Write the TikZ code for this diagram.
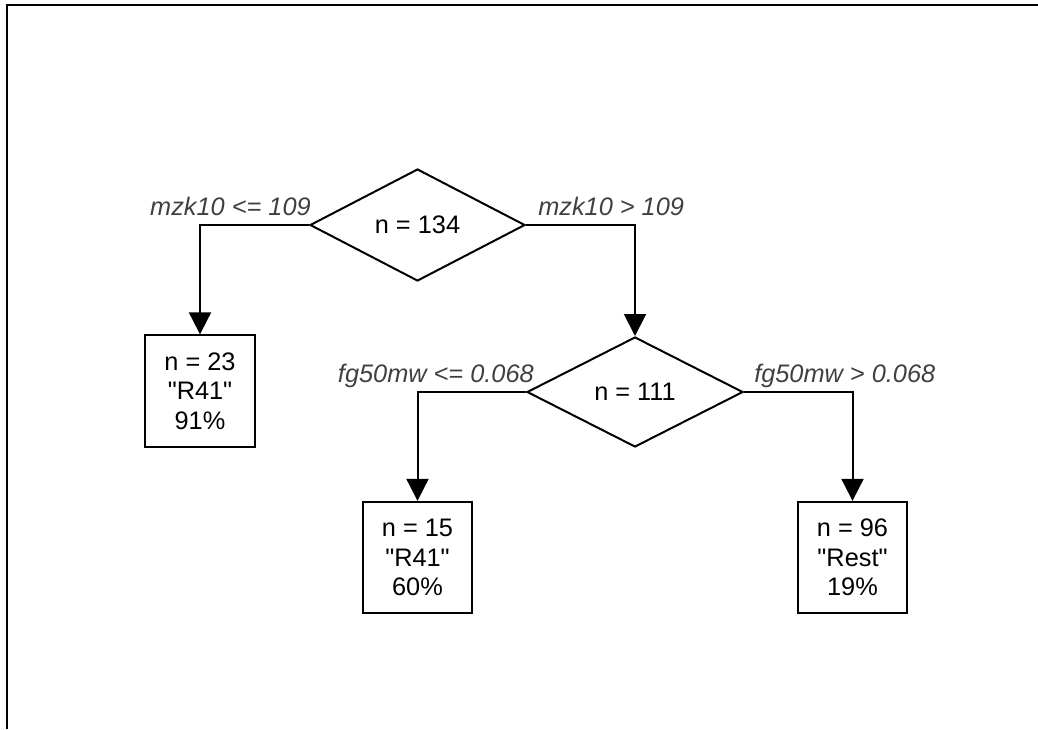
\documentclass[tikz,border=0pt]{standalone}
\usepackage{fontspec}
\setmainfont{Liberation Sans}[Ligatures=TeXOff]
\usetikzlibrary{shapes.geometric,arrows.meta,calc}
\begin{document}
\begin{tikzpicture}[x=0.75pt,y=-0.75pt,
  every node/.style={font=\fontsize{19pt}{22pt}\selectfont},
  split/.style={draw,line width=1.5pt,shape=diamond,aspect=2,inner sep=0pt},
  leaf/.style={draw,line width=1.5pt,rectangle,inner sep=0pt,align=center,minimum width=82pt,minimum height=83.5pt},
  conn/.style={line width=1.5pt,-{Triangle[width=16.5pt,length=16.5pt]}},
  cond/.style={font=\fontsize{19pt}{22pt}\selectfont\itshape,text=black!75,inner sep=0pt}]
\useasboundingbox (0,0) rectangle (1038,729);
\coordinate (fa) at (7,729);
\coordinate (fb) at (7,5);
\coordinate (fc) at (1038,5);
\draw[line width=1.8pt] (fa) -- (fb) -- (fc);
\node[split,minimum width=161.25pt,minimum height=84pt] (d1) at (417.5,225) {n = 134};
\node[split,minimum width=162pt,minimum height=82.5pt] (d2) at (635,392) {n = 111};
\node[leaf] (b1) at (200,391) {n = 23\\"R41"\\91\%};
\node[leaf] (b2) at (417.5,557.5) {n = 15\\"R41"\\60\%};
\node[leaf] (b3) at (852.5,557.5) {n = 96\\"Rest"\\19\%};
\draw[conn] (d1.west) -| (b1.north);
\draw[conn] (d1.east) -| (d2.north);
\draw[conn] (d2.west) -| (b2.north);
\draw[conn] (d2.east) -| (b3.north);
\node[cond,anchor=base east] (l1) at ($(d1.west)+(2,-10)$) {mzk10 <= 109};
\node[cond,anchor=base west] (l2) at ($(d1.east)+(12,-10)$) {mzk10 > 109};
\node[cond,anchor=base east] (l3) at ($(d2.west)+(8,-10)$) {fg50mw <= 0.068};
\node[cond,anchor=base west] (l4) at ($(d2.east)+(10,-10)$) {fg50mw > 0.068};
\end{tikzpicture}
\end{document}
